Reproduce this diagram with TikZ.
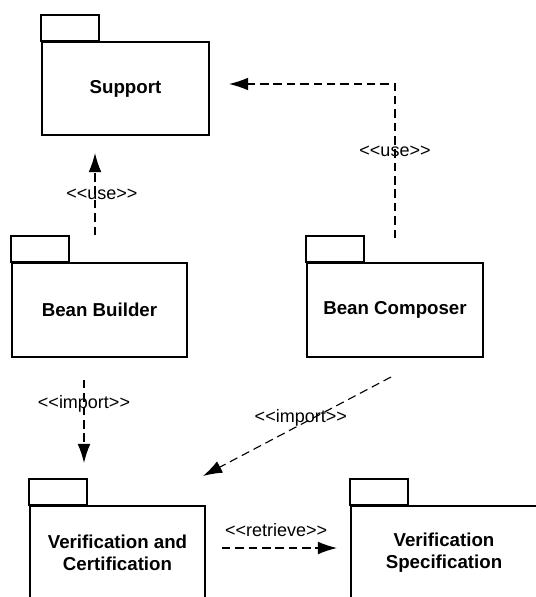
\documentclass[tikz,border=0pt]{standalone}
\usepackage{fontspec}
\setmainfont{Liberation Sans}
\usetikzlibrary{arrows.meta, positioning}
\newcommand{\stereo}[1]{<{}<#1>{}>}

\begin{document}
\begin{tikzpicture}[auto, >={Latex[length=0.48cm, width=0.32cm]}]
				\tikzstyle{pkg} = [draw=black, line width=1.2pt, rectangle, minimum height=2.35cm, inner sep=0pt, align=center, font=\fontsize{13.3}{15.6}\selectfont\bfseries]
				\tikzstyle{tab} = [draw=black, line width=1.2pt]
				\tikzstyle{dep} = [draw=black, line width=0.8pt, dash pattern=on 6pt off 3.5pt]
				\tikzstyle{invis} = [draw=none, anchor=center, inner sep=1pt, font=\fontsize{12.8}{15}\selectfont]
				
				\useasboundingbox[fill=white] (0, 0) rectangle (13.4, -14.925);
				\clip (0, 0) rectangle (13.4, -14.925);
				
				\node[pkg, minimum width=4.175cm, minimum height=2.325cm] at (3.1375, -2.2125) (sup) {Support};
				\node[pkg, minimum width=4.375cm] at (2.4875, -7.75) (bb) {Bean Builder};
				\node[pkg, minimum width=4.4cm] at (9.875, -7.75) (bc) {Bean Composer};
				\node[pkg, minimum width=4.375cm] at (2.9375, -13.825) (vc) {Verification and\\Certification};
				\node[pkg, minimum width=4.65cm] at (11.1, -13.825) (vs) {Verification\\Specification};
				
				\foreach \p in {sup, bb, bc, vc, vs}
				\draw[tab] (\p.north west) rectangle ++(1.45, 0.65);
				
				\coordinate (bbUse) at (2.375, -5.875);
				\coordinate (supBottom) at (2.375, -3.825);
				\coordinate (bcUse) at (9.875, -5.95);
				\coordinate (bend) at (9.875, -2.1);
				\coordinate (supRight) at (5.725, -2.1);
				\coordinate (bbImport) at (2.1, -9.5);
				\coordinate (vcTop) at (2.1, -11.575);
				\coordinate (bcImport) at (9.775, -9.425);
				\coordinate (vcCorner) at (5.075, -11.9);
				\coordinate (vcRight) at (5.55, -13.7);
				\coordinate (vsLeft) at (8.425, -13.7);
				
				\draw[dep, ->] (bbUse) -- node[invis, pos=0.49, xshift=0.17cm] {\stereo{use}} (supBottom);
				\draw[dep, ->] (bcUse) -- node[invis, pos=0.56] {\stereo{use}} (bend) -- (supRight);
				\draw[dep, ->] (bbImport) -- node[invis, pos=0.29] {\stereo{import}} (vcTop);
				\draw[dep, ->] (bcImport) -- node[invis, pos=0.48, yshift=0.17cm] {\stereo{import}} (vcCorner);
				\draw[dep, ->] (vcRight) -- node[invis, pos=0.47, yshift=0.45cm] {\stereo{retrieve}} (vsLeft);
\end{tikzpicture}
\end{document}
